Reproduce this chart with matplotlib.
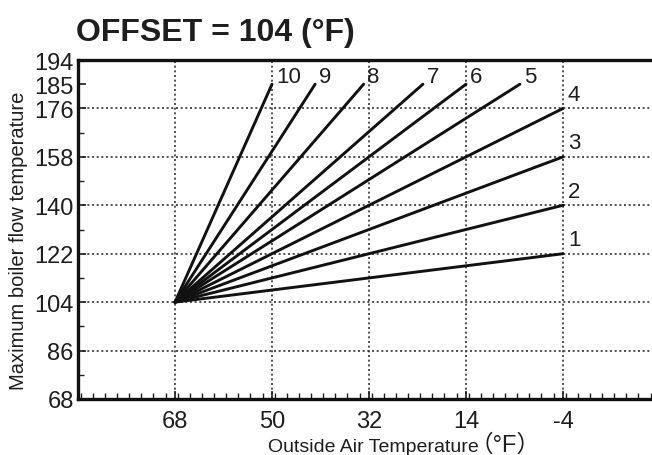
import matplotlib
matplotlib.use("Agg")
import matplotlib.pyplot as plt
from matplotlib.ticker import MultipleLocator, FixedLocator

# Heating curves: all start at the offset point and rise to their end point
curve_names = ["1", "2", "3", "4", "5", "6", "7", "8", "9", "10"]
start_x = 68
start_y = 104
end_x = [-4, -4, -4, -4, 4, 14, 22, 33, 42, 50]
end_y = [122, 140, 158, 176, 185, 185, 185, 185, 185, 185]

x_ticks = [68, 50, 32, 14, -4]
y_ticks = [68, 86, 104, 122, 140, 158, 176, 185, 194]
y_grid = [86, 104, 122, 140, 158, 176]

TXT = "#1e1e1e"
FONT = ["Liberation Sans", "Noto Sans CJK SC", "DejaVu Sans"]
plt.rcParams["font.family"] = FONT

fig = plt.figure(figsize=(6.52, 4.56), dpi=100)
ax = fig.add_axes([78 / 652, 56 / 456, 582 / 652, 339 / 456])

ax.set_xlim(86, -22)
ax.set_ylim(68, 194)

# dotted grid
for gx in x_ticks:
    ax.axvline(gx, color="#333333", lw=1.2, ls=(0, (1.2, 1.6)), zorder=1)
for gy in y_grid:
    ax.axhline(gy, color="#333333", lw=1.2, ls=(0, (1.2, 1.6)), zorder=1)

# curves
for name, ex, ey in zip(curve_names, end_x, end_y):
    ax.plot([start_x, ex], [start_y, ey], color="#111111", lw=2.1,
            solid_capstyle="round", zorder=3)
    if ey < 185:
        ax.text(ex - 0.9, ey + 5.2, name, ha="left", va="center",
                fontsize=16, color=TXT)
    else:
        ax.text(ex - 0.7, ey + 2.8, name, ha="left", va="center",
                fontsize=16, color=TXT)

ax.xaxis.set_major_locator(FixedLocator(x_ticks))
ax.xaxis.set_minor_locator(MultipleLocator(2.25))
ax.yaxis.set_major_locator(FixedLocator(y_ticks))
ax.yaxis.set_minor_locator(FixedLocator([77, 95, 113, 131, 149, 167]))
ax.set_xticklabels([str(v) for v in x_ticks])
ax.set_yticklabels([str(v) for v in y_ticks])

ax.tick_params(axis="both", which="major", direction="in", length=6,
               width=1.2, labelsize=17, colors=TXT)
ax.tick_params(axis="both", which="minor", direction="in", length=4,
               width=1.0, colors=TXT)
ax.tick_params(axis="x", pad=8)
ax.tick_params(axis="y", pad=3)

for side in ["left", "bottom", "top", "right"]:
    ax.spines[side].set_linewidth(2.4)
    ax.spines[side].set_color("#111111")

ax.set_ylabel("Maximum boiler flow temperature", fontsize=14.5, color=TXT)
ax.yaxis.set_label_coords(-50 / 582, 0.47)

# x axis title, with the unit in wide brackets
fig.text(268 / 652, 1 - 452 / 456, "Outside Air Temperature", fontsize=14,
         color=TXT, ha="left", va="baseline")
fig.text(470 / 652, 1 - 452 / 456, "（°F）", fontsize=17,
         color=TXT, ha="left", va="baseline")

fig.text(76 / 652, 1 - 41 / 456, "OFFSET = 104 (°F)", fontsize=23,
         fontweight="bold", color=TXT, ha="left", va="baseline")

fig.savefig("out.png", dpi=100, facecolor="white")
